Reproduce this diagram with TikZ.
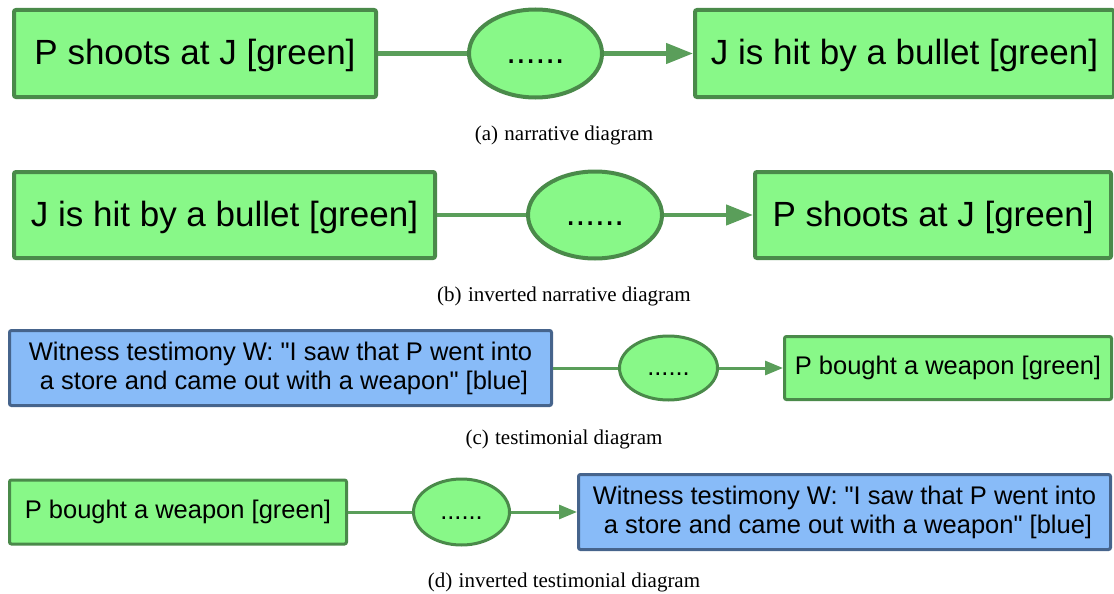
\documentclass[tikz,border=0pt]{standalone}
\usepackage{fontspec}
\setmainfont{Liberation Serif}
\newfontfamily\boxfont{Liberation Sans}
\usetikzlibrary{arrows.meta,shapes.geometric}
\definecolor{gfill}{HTML}{88F888}
\definecolor{gline}{HTML}{4A8A4A}
\definecolor{glink}{HTML}{5A9E5A}
\definecolor{bfill}{HTML}{88BBF8}
\definecolor{bline}{HTML}{46648C}
\tikzset{
  every picture/.style={>=Latex},
  fact/.style={draw=gline, fill=gfill, rounded corners=2pt, inner sep=0pt},
  testimony/.style={draw=bline, fill=bfill, rounded corners=2pt, inner sep=0pt, align=center},
  gap/.style={ellipse, draw=gline, fill=gfill, inner sep=0pt},
  wh/.style 2 args={minimum width=#1pt, minimum height=#2pt},
  bigrow/.style={line width=4pt, font=\boxfont\fontsize{35}{40}\selectfont},
  smallrow/.style={line width=3pt, font=\boxfont\fontsize{25.5}{29}\selectfont},
  bigline/.style={text height=29pt, text depth=7pt},
  bigdots/.style={text height=21pt, text depth=0pt},
  smalldots/.style={text height=15pt, text depth=0pt},
  biglink/.style={draw=glink, line width=4.5pt},
  smalllink/.style={draw=glink, line width=3pt},
  bigtip/.style={-{Triangle[length=27pt,width=20pt]}},
  smalltip/.style={-{Triangle[length=18pt,width=14pt]}},
  subcap/.style={font=\fontsize{21}{25}\selectfont},
}

\begin{document}
\begin{tikzpicture}[x=1pt,y=-1pt]
  \useasboundingbox (0,0) rectangle (1114,594);
  % (a) narrative
  \node[fact,bigrow,bigline,wh={362}{87}] (pa) at (195,53.5) {P shoots at J [green]};
  \node[gap,bigrow,bigdots,wh={133}{88}] (ea) at (535.5,53.5) {......};
  \node[fact,bigrow,bigline,wh={419}{87}] (ja) at (904.5,53.5) {J is hit by a bullet [green]};
  \draw[biglink] (pa) -- (ea);
  \draw[biglink,bigtip] (ea) -- (ja);
  \node[subcap] (capa) at (564,135) {(a)\hspace{0.3em}narrative diagram};

  % (b) inverted narrative
  \node[fact,bigrow,bigline,wh={421}{86}] (jb) at (224.5,215) {J is hit by a bullet [green]};
  \node[gap,bigrow,bigdots,wh={134}{87}] (eb) at (595,215) {......};
  \node[fact,bigrow,bigline,wh={356}{86}] (pb) at (933,215) {P shoots at J [green]};
  \draw[biglink] (jb) -- (eb);
  \draw[biglink,bigtip] (eb) -- (pb);
  \node[subcap] (capb) at (564,296) {(b)\hspace{0.3em}inverted narrative diagram};

  % (c) testimonial
  \node[testimony,smallrow,wh={542}{75}] (wc) at (280.5,368)
    {Witness testimony W: "I saw that P went into\\\ a store and came out with a weapon" [blue]};
  \node[gap,smallrow,smalldots,wh={98}{64}] (ec) at (668.5,368) {......};
  \node[fact,smallrow,wh={327}{63}] (bc) at (948,368) {P bought a weapon [green]};
  \draw[smalllink] (wc) -- (ec);
  \draw[smalllink,smalltip] (ec) -- (bc);
  \node[subcap] (capc) at (564,439) {(c)\hspace{0.3em}testimonial diagram};

  % (d) inverted testimonial
  \node[fact,smallrow,wh={337}{64}] (bd) at (178,512) {P bought a weapon [green]};
  \node[gap,smallrow,smalldots,wh={96}{66}] (ed) at (461.5,512) {......};
  \node[testimony,smallrow,wh={532}{75}] (wd) at (844.5,512)
    {Witness testimony W: "I saw that P went into\\\ a store and came out with a weapon" [blue]};
  \draw[smalllink] (bd) -- (ed);
  \draw[smalllink,smalltip] (ed) -- (wd);
  \node[subcap] (capd) at (564,582) {(d)\hspace{0.3em}inverted testimonial diagram};
\end{tikzpicture}
\end{document}
